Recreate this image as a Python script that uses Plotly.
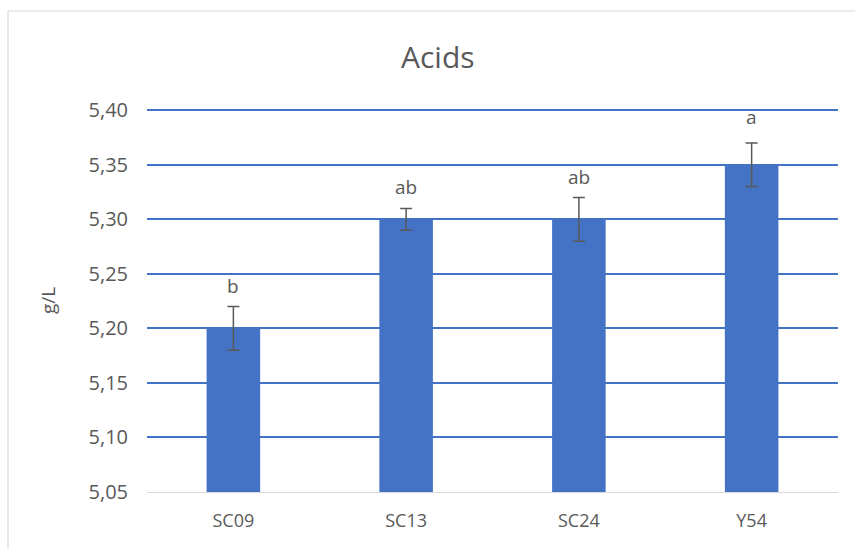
import plotly.graph_objects as go

categories = ["SC09", "SC13", "SC24", "Y54"]
values = [5.20, 5.30, 5.30, 5.35]
errors = [0.02, 0.01, 0.02, 0.02]
letters = ["b", "ab", "ab", "a"]
tick_vals = [5.05, 5.10, 5.15, 5.20, 5.25, 5.30, 5.35, 5.40]

FONT = "Open Sans, Liberation Sans, sans-serif"
GREY = "#595959"

L, R, T, B = 147, 17, 107, 56
PW, PH = 855 - L - R, 548 - T - B

fig = go.Figure()
fig.add_trace(go.Bar(
    x=categories, y=[v - 5.05 for v in values], base=5.05,
    marker=dict(color="#4472C4", line=dict(width=0)),
    error_y=dict(type="data", array=errors, color=GREY, thickness=1.5, width=6),
    hoverinfo="skip",
))

label_shift = [6, 6, 6, 11]
for c, v, e, l, s in zip(categories, values, errors, letters, label_shift):
    fig.add_annotation(x=c, y=v + e, text=l, showarrow=False, yanchor="bottom", yshift=s,
                       font=dict(family=FONT, size=19, color=GREY))

fig.add_shape(type="rect", xref="paper", yref="paper",
              x0=(8 - L) / PW, x1=(870 - L) / PW,
              y0=(548 - B - 570) / PH, y1=(548 - B - 11) / PH,
              line=dict(color="#D9D9D9", width=1.2), layer="below")

fig.add_annotation(xref="paper", yref="paper", x=(48 - L) / PW, y=(548 - B - 301) / PH, text="g/L",
                   textangle=-90, showarrow=False, xanchor="center", yanchor="middle",
                   font=dict(family=FONT, size=19, color=GREY))

fig.add_annotation(xref="paper", yref="paper", x=(438 - L) / PW, y=(548 - B - 56) / PH,
                   text="Acids", showarrow=False, xanchor="center", yanchor="middle",
                   font=dict(family=FONT, size=30, color=GREY))

fig.update_layout(
    width=855, height=548,
    margin=dict(l=L, r=R, t=T, b=B, autoexpand=False),
    paper_bgcolor="white", plot_bgcolor="white",
    separators=", ",
    bargap=0.69,
    showlegend=False,
    font=dict(family=FONT, size=19, color=GREY),
    xaxis=dict(showline=True, linecolor="#D9D9D9", linewidth=1.2, ticks="",
               automargin=False, ticklabelstandoff=12, tickfont=dict(size=18, color=GREY)),
    yaxis=dict(range=[5.05, 5.403], tickvals=tick_vals, tickformat=".2f",
               showgrid=True, gridcolor="#4472C4", gridwidth=1.5, zeroline=False,
               showline=False, ticks="", ticklabelstandoff=18, automargin=False,
               tickfont=dict(size=20, color=GREY)),
)

fig.write_html("out.html", config={"displayModeBar": False},
               post_script="document.body.style.margin='0';document.body.style.overflow='hidden';")
